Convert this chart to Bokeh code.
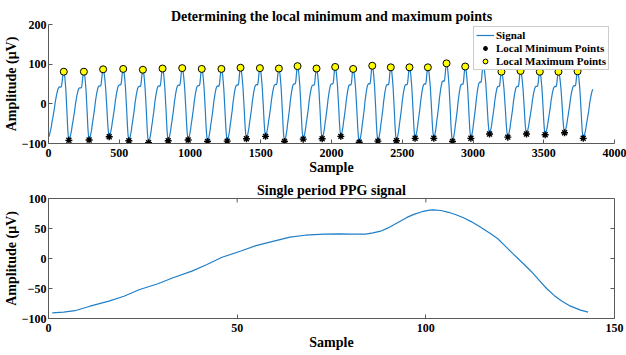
import numpy as np
from bokeh.plotting import figure
from bokeh.layouts import column
from bokeh.models import Range1d, FixedTicker, Legend, LegendItem
from bokeh.embed import file_html
from bokeh.resources import INLINE

# ---------------- data ----------------
# single PPG period (lower panel)
period_sample = [1, 4, 7, 11, 16, 20, 24, 29, 33, 38,
                 42, 46, 51, 55, 60, 64, 68, 73, 77, 80,
                 84, 86, 88, 90, 92, 95, 97, 99, 101, 102,
                 104, 106, 108, 110, 112, 114, 117, 119, 121, 123,
                 126, 128, 130, 132, 134, 136, 138, 141, 143]
period_amp = [-90.5, -89.5, -87, -79.5, -71, -63, -52, -42, -32, -21,
              -10, 2, 12.5, 21.5, 29.5, 35.5, 38.8, 40.5, 41, 40.5,
              40.5, 42.8, 45.5, 51, 58, 68.5, 74, 78, 80.5, 81,
              80, 77, 73, 67.8, 61.5, 54, 42, 33.3, 21, 8.5,
              -9.5, -22, -36, -50, -61.5, -71, -78.5, -86, -89.5]

# detected extrema (upper panel)
max_x = [108, 250, 386, 528, 667, 806, 945, 1083, 1222, 1357, 1494, 1628, 1760, 1894,
         2026, 2153, 2288, 2419, 2551, 2681, 2813, 2945, 3072, 3201, 3336, 3472, 3604, 3739]
max_y = [81, 81, 87, 88, 86, 89, 90, 88, 88, 91, 90, 89, 95, 89,
         93, 88, 96, 92, 92, 92, 102, 94, 98, 81, 83, 81, 81, 82]
min_x = [144, 287, 429, 568, 707, 846, 987, 1124, 1263, 1399, 1534, 1668, 1800, 1934,
         2066, 2196, 2328, 2459, 2591, 2723, 2855, 2985, 3117, 3246, 3378, 3510, 3647, 3779]
min_y = [-92, -91, -83, -93, -98, -93, -91, -95, -94, -88, -82, -95, -89, -88,
         -82, -97, -94, -93, -87, -87, -95, -87, -76, -84, -76, -78, -73, -87]
signal_start = (0, -83)      # first sample of the recording
signal_end = (3847, 37)      # last sample of the recording
end_template_sample = 68     # the recording stops on the rising shoulder

x_range_top = (0, 4000)
y_range_top = (-100, 200)
x_range_bot = (0, 150)
y_range_bot = (-100, 100)
x_ticks_top = [0, 500, 1000, 1500, 2000, 2500, 3000, 3500, 4000]
y_ticks_top = [-100, 0, 100, 200]
x_ticks_bot = [0, 50, 100, 150]
y_ticks_bot = [-100, -50, 0, 50, 100]

# ---------------- build the full signal from the period shape ----------------
tx = np.array(period_sample, float)
ty = np.array(period_amp, float)
pk = int(np.argmax(ty))
rise_u = (tx[:pk + 1] - tx[0]) / (tx[pk] - tx[0])
rise_v = (ty[:pk + 1] - ty[0]) / (ty[pk] - ty[0])
fall_u = (tx[pk:] - tx[pk]) / (tx[-1] - tx[pk])
fall_v = (ty[pk:] - ty[-1]) / (ty[pk] - ty[-1])

sx, sy = [], []
lows = [signal_start] + list(zip(min_x, min_y))
for i in range(len(max_x)):
    xa, ya = lows[i]
    xb, yb = max_x[i], max_y[i]
    xc, yc = min_x[i], min_y[i]
    sx += list(xa + rise_u * (xb - xa)); sy += list(ya + rise_v * (yb - ya))
    sx += list(xb + fall_u[1:] * (xc - xb)); sy += list(yc + fall_v[1:] * (yb - yc))
j = int(np.searchsorted(tx, end_template_sample))
eu = (tx[:j + 1] - tx[0]) / (tx[j] - tx[0])
ev = (ty[:j + 1] - ty[0]) / (ty[j] - ty[0])
xa, ya = min_x[-1], min_y[-1]
sx += list(xa + eu[1:] * (signal_end[0] - xa)); sy += list(ya + ev[1:] * (signal_end[1] - ya))

# ---------------- styling ----------------
FONT = "Liberation Serif"
AX = "#5a5a5a"
BLUE = "#1f7fc8"


def style_axis(ax):
    ax.axis_line_color = AX
    ax.major_tick_line_color = AX
    ax.major_tick_in = 4
    ax.major_tick_out = 0
    ax.minor_tick_line_color = None
    ax.major_label_text_font = FONT
    ax.major_label_text_font_style = "bold"
    ax.major_label_text_font_size = "12px"
    ax.major_label_text_color = "black"
    ax.axis_label_text_font = FONT
    ax.axis_label_text_font_style = "bold"
    ax.axis_label_text_font_size = "14px"
    ax.axis_label_text_color = "black"


def style_title(p):
    p.title.text_font = FONT
    p.title.text_font_style = "bold"
    p.title.text_font_size = "14px"
    p.title.align = "center"
    p.title.text_color = "black"


W = 626

# ---------------- upper panel ----------------
p1 = figure(width=W, height=178, output_backend="svg", toolbar_location=None,
            x_range=Range1d(*x_range_top), y_range=Range1d(*y_range_top),
            title="Determining the local minimum and maximum points",
            min_border_left=48, min_border_right=12, min_border_top=24, min_border_bottom=35)
style_title(p1)
p1.title.standoff = 2
p1.outline_line_color = None
p1.grid.visible = False
p1.xaxis.ticker = FixedTicker(ticks=x_ticks_top)
p1.yaxis.ticker = FixedTicker(ticks=y_ticks_top)
p1.xaxis.axis_label = "Sample"
p1.yaxis.axis_label = "Amplitude (μV)"
style_axis(p1.xaxis[0]); style_axis(p1.yaxis[0])
p1.xaxis.major_label_standoff = 5
p1.xaxis.axis_label_standoff = 0
p1.yaxis.major_label_standoff = 2
p1.yaxis.axis_label_standoff = 0

r_sig = p1.line(sx, sy, line_color=BLUE, line_width=1.2)
r_min = p1.scatter(min_x, min_y, marker="asterisk", size=7, line_color="black", line_width=1.4)
r_max = p1.scatter(max_x, max_y, marker="circle", size=7, fill_color="#FFFF00",
                   line_color="black", line_width=1)

legend = Legend(items=[LegendItem(label="Signal", renderers=[r_sig]),
                       LegendItem(label="Local Minimum Points", renderers=[r_min]),
                       LegendItem(label="Local Maximum Points", renderers=[r_max])],
                location=(425, 73), orientation="vertical",
                label_text_font=FONT, label_text_font_style="bold", label_text_font_size="11px",
                label_text_color="black", glyph_width=18, glyph_height=12, label_height=12,
                label_standoff=2, spacing=1, padding=2, margin=0,
                border_line_color="#9a9a9a", border_line_width=1,
                background_fill_color="white", background_fill_alpha=1.0)
p1.add_layout(legend)

# ---------------- lower panel ----------------
p2 = figure(width=W, height=175, output_backend="svg", toolbar_location=None,
            x_range=Range1d(*x_range_bot), y_range=Range1d(*y_range_bot),
            title="Single period PPG signal",
            min_border_left=48, min_border_right=12, min_border_top=20, min_border_bottom=35)
style_title(p2)
p2.title.standoff = 2
p2.outline_line_color = AX
p2.grid.visible = False
p2.xaxis.ticker = FixedTicker(ticks=x_ticks_bot)
p2.yaxis.ticker = FixedTicker(ticks=y_ticks_bot)
p2.xaxis.axis_label = "Sample"
p2.yaxis.axis_label = "Amplitude (μV)"
style_axis(p2.xaxis[0]); style_axis(p2.yaxis[0])
p2.xaxis.major_label_standoff = 5
p2.xaxis.axis_label_standoff = 0
p2.yaxis.major_label_standoff = 2
p2.yaxis.axis_label_standoff = 0

# inward ticks on the top and right edges of the box (half of each dash is clipped by the frame)
inner_x = x_ticks_bot[1:-1]
inner_y = y_ticks_bot[1:-1]
p2.scatter(inner_x, [y_range_bot[1]] * len(inner_x), marker="dash", angle=np.pi / 2,
           size=8, line_color=AX, line_width=1)
p2.scatter([x_range_bot[1]] * len(inner_y), inner_y, marker="dash",
           size=8, line_color=AX, line_width=1)

p2.line(period_sample, period_amp, line_color=BLUE, line_width=1.2)

page = column(p1, p2)
open("out.html", "w").write(file_html(page, INLINE))
